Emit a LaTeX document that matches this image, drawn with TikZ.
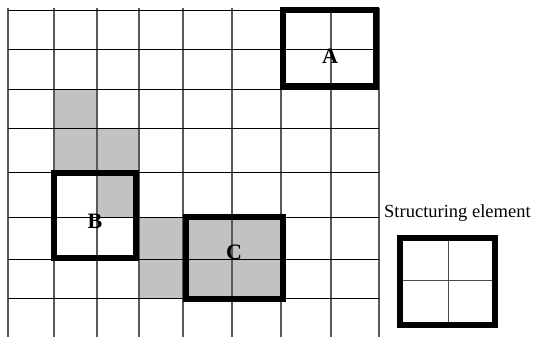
\documentclass[tikz,border=0pt]{standalone}
\usepackage{fontspec}
\setmainfont{Liberation Serif}
\usetikzlibrary{positioning}

\begin{document}
\begin{tikzpicture}[
		x=1pt,
		y=-1pt,
		colline/.style={
			line width=1.3pt,
			black!65
		},
		rowline/.style={
			line width=0.9pt,
			black
		},
		hit/.style={
			fill=black!24
		},
		probe/.style={
			line width=5.5pt,
			black
		},
		thin/.style={
			line width=1pt,
			black!70
		},
		etiq/.style={
			font=\bfseries\fontsize{22}{24}\selectfont,
			inner sep=0pt
		},
		capt/.style={
			font=\fontsize{18.5}{20}\selectfont,
			inner sep=0pt,
			anchor=west
		}
		]
		\useasboundingbox (0,0) rectangle (534,337);
		
		% Celdas del conjunto
		\foreach \xa/\ya/\xb/\yb in {54/89/97/172, 97/128/139/217,
			139/217/183/298, 183/217/281/298}
		\fill[hit] (\xa,\ya) rectangle (\xb,\yb);
		
		% Rejilla
		\foreach \x in {8,54,97,139,183,232,281,331,379}
		\draw[colline] (\x,8) -- (\x,337);
		\foreach \y in {10,49,89,128,172,217,259,298}
		\draw[rowline] (8,\y) -- (379,\y);
		
		% Posiciones del elemento
		\draw[probe] (283,10) rectangle (376,86);
		\draw[probe] (54,173) rectangle (136,258);
		\draw[probe] (186,217) rectangle (283,299);
		
		\node[etiq] (a) at (330,56) {A};
		\node[etiq] (b) at (95,221) {B};
		\node[etiq] (c) at (234,252) {C};
		
		% Elemento estructurante
		\node[capt] (se) at (384,213) {Structuring element};
		
		\draw[thin] (448,238) -- (448,325);
		\draw[thin] (400,280) -- (495,280);
		\draw[probe] (400,238) rectangle (495,325);
		
	\end{tikzpicture}
\end{document}
